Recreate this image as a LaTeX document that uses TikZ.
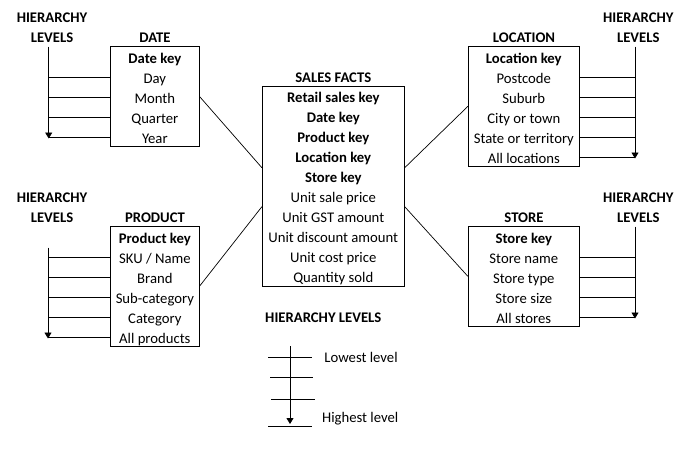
\documentclass[tikz,border=0pt]{standalone}
\usepackage{fontspec}
\setmainfont{Carlito}
\usetikzlibrary{arrows.meta,calc}
\begin{document}
\begin{tikzpicture}[x=1pt,y=-1pt,line width=0.85pt,
  every node/.style={inner sep=0pt,font=\fontsize{14.7}{17}\selectfont},
  row/.style={anchor=center,text height=9.5pt,text depth=3pt,yshift=-1.5pt},
  ttl/.style={row,font=\fontsize{14.7}{17}\selectfont\bfseries},
  tbox/.style={draw,rectangle,line width=0.85pt},
  hier/.style={-{Triangle[length=6pt,width=7pt]}},
  conn/.style={line width=0.7pt}]
\useasboundingbox (0,0) rectangle (684,450);

% ---------- boxes ----------
\node[tbox,minimum width=88.3pt,minimum height=99.3pt] (datebox) at (154.85,96.35) {};
\node[tbox,minimum width=111pt,minimum height=119.3pt] (locbox) at (523.8,106.35) {};
\node[tbox,minimum width=88.3pt,minimum height=119.3pt] (prodbox) at (154.85,286.35) {};
\node[tbox,minimum width=111pt,minimum height=99.3pt] (storebox) at (523.8,276.35) {};
\node[tbox,minimum width=142pt,minimum height=200pt] (salesbox) at (333.3,186.7) {};

% ---------- titles ----------
\node[ttl] (tdate) at (155,37.5) {DATE};
\node[ttl] (tloc) at (524,37.5) {LOCATION};
\node[ttl] (tprod) at (155,217.5) {PRODUCT};
\node[ttl] (tstore) at (524,217.5) {STORE};
\node[ttl] (tsales) at (333.3,77.5) {SALES FACTS};

\node[ttl] (h1a) at (52,17.5) {HIERARCHY};
\node[ttl] (h1b) at (52,37.5) {LEVELS};
\node[ttl] (h2a) at (638.3,17.5) {HIERARCHY};
\node[ttl] (h2b) at (638.3,37.5) {LEVELS};
\node[ttl] (h3a) at (52,197.5) {HIERARCHY};
\node[ttl] (h3b) at (52,217.5) {LEVELS};
\node[ttl] (h4a) at (638.3,197.5) {HIERARCHY};
\node[ttl] (h4b) at (638.3,217.5) {LEVELS};

% ---------- rows ----------
\node[ttl] (d1) at (154.85,58.5) {Date key};
\foreach \t [count=\i from 2] in {Day,Month,Quarter,Year}
  \node[row] (d\i) at (154.85,38.5+20*\i) {\t};

\node[ttl] (l1) at (523.8,58.5) {Location key};
\foreach \t [count=\i from 2] in {Postcode,Suburb,City or town,State or territory,All locations}
  \node[row] (l\i) at (523.8,38.5+20*\i) {\t};

\node[ttl] (p1) at (154.85,238.5) {Product key};
\foreach \t [count=\i from 2] in {{SKU / Name},Brand,Sub-category,Category,All products}
  \node[row] (p\i) at (154.85,218.5+20*\i) {\t};

\node[ttl] (s1) at (523.8,238.5) {Store key};
\foreach \t [count=\i from 2] in {Store name,Store type,Store size,All stores}
  \node[row] (s\i) at (523.8,218.5+20*\i) {\t};

\foreach \t [count=\i] in {Retail sales key,Date key,Product key,Location key,Store key}
  \node[ttl] (f\i) at (333.3,77.5+20*\i) {\t};
\foreach \t [count=\i from 6] in {Unit sale price,Unit GST amount,Unit discount amount,Unit cost price,Quantity sold}
  \node[row] (f\i) at (333.3,77.5+20*\i) {\t};

% ---------- connectors ----------
\draw[conn] (datebox.east) -- ($(salesbox.west)+(0,-19)$);
\draw[conn] (prodbox.east) -- ($(salesbox.west)+(0,20)$);
\draw[conn] (locbox.west) -- ($(salesbox.east)+(0,-19)$);
\draw[conn] (storebox.west) -- ($(salesbox.east)+(0,20)$);

% ---------- hierarchy arrows ----------
\coordinate (dv) at (48.7,46.7);
\coordinate (dvend) at (48.7,138.5);
\draw[hier] (dv) -- (dvend);
\foreach \i in {2,...,5} {
  \coordinate (dy\i) at ($(d\i.center)+(0,-3)$);
  \draw (dy\i -| datebox.west) -- (dy\i -| dv);
}

\coordinate (lv) at (635,46.7);
\coordinate (lvend) at (635,158.5);
\draw[hier] (lv) -- (lvend);
\foreach \i in {2,...,6} {
  \coordinate (ly\i) at ($(l\i.center)+(0,-3)$);
  \draw (ly\i -| locbox.east) -- (ly\i -| lv);
}

\coordinate (pv) at (48,247.7);
\coordinate (pvend) at (48,338.5);
\draw[hier] (pv) -- (pvend);
\foreach \i in {2,...,6} {
  \coordinate (py\i) at ($(p\i.center)+(0,-3)$);
  \draw (py\i -| prodbox.west) -- (py\i -| pv);
}

\coordinate (sv) at (635,226.7);
\coordinate (svend) at (635,318.5);
\draw[hier] (sv) -- (svend);
\foreach \i in {2,...,5} {
  \coordinate (sy\i) at ($(s\i.center)+(0,-3)$);
  \draw (sy\i -| storebox.east) -- (sy\i -| sv);
}

% ---------- legend ----------
\node[ttl] (lgt) at (323.3,317.5) {HIERARCHY LEVELS};
\coordinate (lgv) at (290,346);
\coordinate (lgvend) at (290,424);
\draw[hier] (lgv) -- (lgvend);
\draw (268.3,357.3) -- (311.7,357.3);
\draw (270,377.3) -- (313,377.3);
\draw (271,399.3) -- (315,399.3);
\draw (268,426) -- (311.7,426);
\node[row,anchor=west] (lg1) at (324,357.5) {Lowest level};
\node[row,anchor=west] (lg2) at (321.7,417.5) {Highest level};
\end{tikzpicture}
\end{document}
